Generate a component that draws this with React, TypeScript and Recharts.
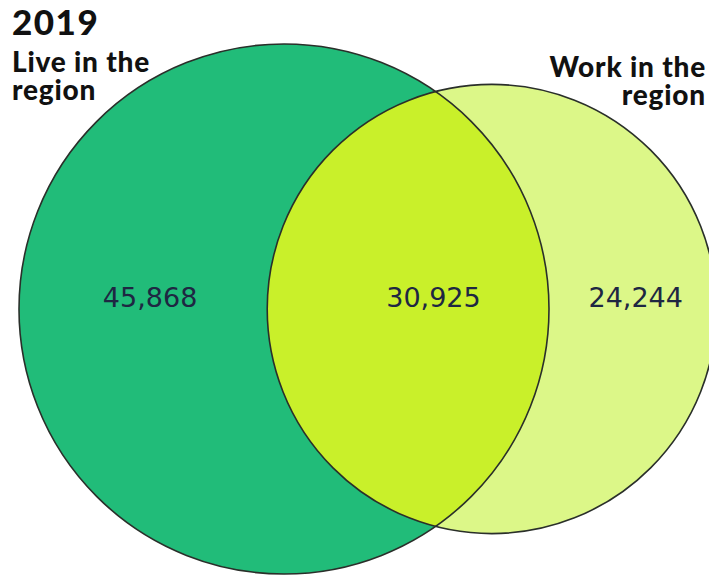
import React from 'react';
import { ScatterChart, Scatter, XAxis, YAxis } from 'recharts';

// ---- data ----
const TITLE = '2019';
const SET_LABELS_LIVE = ['Live in the', 'region'];
const SET_LABELS_WORK = ['Work in the', 'region'];
const REGION_NAMES = ['Live only', 'Live and work', 'Work only'];
const REGION_VALUES = [45868, 30925, 24244];

// ---- layout / style ----
const W = 709;
const H = 578;
const LEFT_CENTER_PX = { x: 284, y: 309 };
const LEFT_RADIUS_PX = 265;
const GREEN = '#21bc79';
const LIGHT = '#dcf788';
const LIME = '#c9f02a';
const STROKE = '#2a2f2a';
const NUM_COLOR = '#1e2742';

function lensArea(r1: number, r2: number, d: number): number {
  if (d >= r1 + r2) return 0;
  if (d <= Math.abs(r1 - r2)) return Math.PI * Math.min(r1, r2) ** 2;
  const a = (r1 * r1 - r2 * r2 + d * d) / (2 * d);
  const b = d - a;
  const h = Math.sqrt(Math.max(0, r1 * r1 - a * a));
  const s1 = r1 * r1 * Math.acos(a / r1) - a * h;
  const s2 = r2 * r2 * Math.acos(b / r2) - b * h;
  return s1 + s2;
}

function solveDistance(r1: number, r2: number, target: number): number {
  let lo = Math.abs(r1 - r2);
  let hi = r1 + r2;
  for (let i = 0; i < 100; i++) {
    const mid = (lo + hi) / 2;
    if (lensArea(r1, r2, mid) > target) lo = mid;
    else hi = mid;
  }
  return (lo + hi) / 2;
}

const areaLive = REGION_VALUES[0] + REGION_VALUES[1];
const areaWork = REGION_VALUES[1] + REGION_VALUES[2];
const rLive = Math.sqrt(areaLive / Math.PI);
const rWork = Math.sqrt(areaWork / Math.PI);
const dist = solveDistance(rLive, rWork, REGION_VALUES[1]);
const SCALE = LEFT_RADIUS_PX / rLive;
const X_DOMAIN = [-LEFT_CENTER_PX.x / SCALE, (W - LEFT_CENTER_PX.x) / SCALE];
const Y_DOMAIN = [-(H - LEFT_CENTER_PX.y) / SCALE, LEFT_CENTER_PX.y / SCALE];

const circles = [
  { id: 'live', x: 0, y: 0, r: rLive, fill: GREEN },
  { id: 'work', x: dist, y: 0, r: rWork, fill: LIGHT },
];
const chordX = (rLive * rLive - rWork * rWork + dist * dist) / (2 * dist);
const labels = [
  { name: REGION_NAMES[0], x: (-rLive + (dist - rWork)) / 2, y: 0, value: REGION_VALUES[0], dx: 7 },
  { name: REGION_NAMES[1], x: chordX, y: 0, value: REGION_VALUES[1], dx: -2 },
  { name: REGION_NAMES[2], x: (rLive + dist + rWork) / 2, y: 0, value: REGION_VALUES[2], dx: 3 },
];

const fillShape = (p: any) => {
  const r = p.payload.r * SCALE;
  return (
    <g>
      {p.payload.id === 'live' && (
        <defs>
          <clipPath id="live-clip">
            <circle cx={p.cx} cy={p.cy} r={r} />
          </clipPath>
        </defs>
      )}
      <circle cx={p.cx} cy={p.cy} r={r} fill={p.payload.fill} />
    </g>
  );
};

const overlapShape = (p: any) => (
  <circle cx={p.cx} cy={p.cy} r={p.payload.r * SCALE} fill={LIME} clipPath="url(#live-clip)" />
);

const outlineShape = (p: any) => (
  <circle cx={p.cx} cy={p.cy} r={p.payload.r * SCALE} fill="none" stroke={STROKE} strokeWidth={1.6} />
);

const labelShape = (p: any) => (
  <text
    x={p.cx + (p.payload.dx || 0)}
    y={p.cy - 2}
    textAnchor="middle"
    fontFamily="DejaVu Sans, sans-serif"
    fontSize={27}
    fill={NUM_COLOR}
  >
    {p.payload.value.toLocaleString('en-US')}
  </text>
);

export default function App() {
  const headStyle = { fontFamily: 'Lato, sans-serif', fontWeight: 900, letterSpacing: 0.8 } as const;
  return (
    <div style={{ position: 'absolute', left: 0, top: 0, width: W, height: H, background: '#fff' }}>
      <ScatterChart width={W} height={H} margin={{ top: 0, right: 0, bottom: 0, left: 0 }}>
        <XAxis type="number" dataKey="x" domain={X_DOMAIN} allowDataOverflow hide />
        <YAxis type="number" dataKey="y" domain={Y_DOMAIN} allowDataOverflow hide />
        <Scatter data={circles} shape={fillShape} isAnimationActive={false} />
        <Scatter data={[circles[1]]} shape={overlapShape} isAnimationActive={false} />
        <Scatter data={circles} shape={outlineShape} isAnimationActive={false} />
        <Scatter data={labels} shape={labelShape} isAnimationActive={false} />
      </ScatterChart>
      <svg
        width={W}
        height={H}
        style={{ position: 'absolute', left: 0, top: 0, pointerEvents: 'none' }}
      >
        <text x={12} y={35} fontSize={35} fill="#111" style={{ ...headStyle, letterSpacing: 1.5 }}>{TITLE}</text>
        <text x={12} y={72} fontSize={28} fill="#111" style={headStyle}>
          <tspan x={12} y={72}>{SET_LABELS_LIVE[0]}</tspan>
          <tspan x={12} y={100}>{SET_LABELS_LIVE[1]}</tspan>
        </text>
        <text x={706} y={77} fontSize={28} fill="#111" textAnchor="end" style={headStyle}>
          <tspan x={706} y={77}>{SET_LABELS_WORK[0]}</tspan>
          <tspan x={706} y={105}>{SET_LABELS_WORK[1]}</tspan>
        </text>
      </svg>
    </div>
  );
}
